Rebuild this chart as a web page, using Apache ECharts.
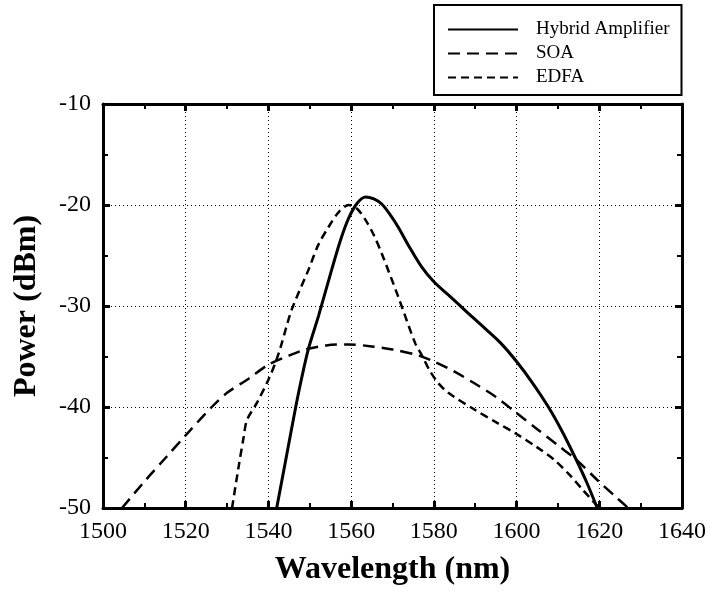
<!DOCTYPE html>
<html>
<head>
<meta charset="utf-8">
<script src="https://cdn.jsdelivr.net/npm/echarts@6/dist/echarts.min.js"></script>
<style>
  html, body { margin: 0; padding: 0; background: #fff; }
  #chart { width: 709px; height: 604px; }
</style>
</head>
<body>
<div id="chart"></div>
<script>
// wavelength (nm), power (dBm)
const hybrid = [
  [1542, -50], [1544.3, -45], [1546.6, -40], [1548, -37.2], [1549.7, -34.2],
  [1552.1, -31], [1555.3, -26.4], [1557.5, -23.4], [1559.4, -21.3], [1561.5, -19.8],
  [1563.5, -19.2], [1565.5, -19.4], [1567.4, -19.9], [1569.5, -21], [1571.4, -22.2],
  [1574, -24.1], [1577, -26.1], [1580, -27.6], [1583.5, -28.9], [1588, -30.6],
  [1591.5, -31.9], [1596, -33.6], [1600, -35.5], [1604, -37.7], [1607.7, -40],
  [1611, -42.4], [1614.4, -45.2], [1617, -47.5], [1619.5, -50]
];
const soa = [
  [1504.6, -50], [1510.4, -47.2], [1515.2, -45], [1520, -42.8], [1526.3, -40],
  [1530, -38.6], [1535.2, -37.2], [1540, -35.8], [1545, -34.9], [1549, -34.3],
  [1554, -33.9], [1559.4, -33.8], [1565, -34], [1570, -34.3], [1576.3, -34.9],
  [1580, -35.5], [1585, -36.5], [1590, -37.7], [1595, -39], [1599.7, -40.5],
  [1605, -42.2], [1610, -43.8], [1614.4, -45.2], [1619.7, -47.3], [1624, -48.9],
  [1627, -50]
];
const edfa = [
  [1531.2, -50], [1532.8, -45.9], [1534, -43], [1534.8, -41.3], [1537.2, -39.6],
  [1540, -37.3], [1541.7, -35.6], [1543, -34], [1545.6, -30.4], [1549.7, -26.4],
  [1552, -24], [1554.5, -22.2], [1557, -20.7], [1559.4, -20], [1561.5, -20.4],
  [1563.5, -21.5], [1565.5, -23], [1567.4, -24.8], [1571.4, -29.1], [1575.5, -33.7],
  [1577, -34.8], [1579, -36.4], [1581, -37.6], [1583.5, -38.6], [1590, -40.3],
  [1595, -41.5], [1599.7, -42.6], [1605, -44], [1609.3, -45.3], [1613, -46.8],
  [1616, -48.2], [1620, -50]
];
const seriesNames = ['Hybrid Amplifier', 'SOA', 'EDFA'];
const xRange = [1500, 1640];
const yRange = [-50, -10];

const serif = 'Liberation Serif';

function frameAxis(pos, range, interval, labels) {
  return {
    type: 'value',
    position: pos,
    min: range[0],
    max: range[1],
    interval: interval,
    axisLine: { show: true, onZero: false, lineStyle: { color: '#000', width: 3 } },
    axisTick: { show: true, inside: true, length: 7, lineStyle: { color: '#000', width: 3 } },
    minorTick: { show: true, splitNumber: 2, length: 5, lineStyle: { color: '#000', width: 2 } },
    axisLabel: labels ? {
      show: true, color: '#000', fontFamily: serif, fontSize: 24, margin: 12,
      formatter: v => String(v)
    } : { show: false },
    splitLine: labels ? {
      show: true, lineStyle: { color: '#000', width: 1, type: [1, 3] }
    } : { show: false }
  };
}

const chart = echarts.init(document.getElementById('chart'));

const xBottom = frameAxis('bottom', xRange, 20, true);
xBottom.name = 'Wavelength (nm)';
xBottom.nameLocation = 'middle';
xBottom.nameGap = 46;
xBottom.nameTextStyle = { fontFamily: serif, fontSize: 32, fontWeight: 'bold', color: '#000' };

const yLeft = frameAxis('left', yRange, 10, true);
yLeft.name = 'Power (dBm)';
yLeft.nameLocation = 'middle';
yLeft.nameGap = 60;
yLeft.nameTextStyle = { fontFamily: serif, fontSize: 32, fontWeight: 'bold', color: '#000' };

chart.setOption({
  animation: false,
  backgroundColor: '#fff',
  grid: { left: 103, right: 26, top: 104, bottom: 96 },
  legend: {
    orient: 'vertical',
    left: 434,
    top: 5,
    padding: [15, 12, 8, 13],
    itemWidth: 70,
    itemHeight: 14,
    itemGap: 5,
    borderColor: '#000',
    borderWidth: 2,
    itemStyle: { opacity: 0 },
    textStyle: { fontFamily: serif, fontSize: 19, color: '#000', padding: [0, 0, 0, 13] },
    data: seriesNames
  },
  xAxis: [xBottom, frameAxis('top', xRange, 20, false)],
  yAxis: [yLeft, frameAxis('right', yRange, 10, false)],
  series: [
    {
      name: seriesNames[0], type: 'line', data: hybrid, smooth: 0.3,
      symbol: 'none', itemStyle: { color: '#000' },
      lineStyle: { color: '#000', width: 3, type: 'solid' }
    },
    {
      name: seriesNames[1], type: 'line', data: soa, smooth: 0.3,
      symbol: 'none', itemStyle: { color: '#000' },
      lineStyle: { color: '#000', width: 2.5, type: [12, 7] }
    },
    {
      name: seriesNames[2], type: 'line', data: edfa, smooth: 0.3,
      symbol: 'none', itemStyle: { color: '#000' },
      lineStyle: { color: '#000', width: 2.5, type: [8, 5] }
    }
  ]
});
</script>
</body>
</html>
